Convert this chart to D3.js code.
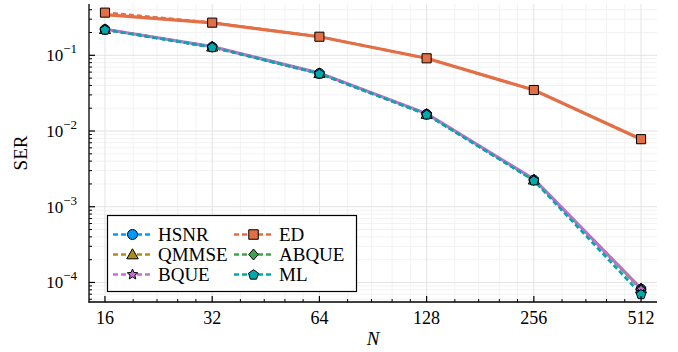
<!DOCTYPE html>
<html>
<head>
<meta charset="utf-8">
<script src="https://cdn.jsdelivr.net/npm/d3@7"></script>
<style>
  body { margin: 0; background: #fff; }
</style>
</head>
<body>
<svg id="chart" width="678" height="352" font-family="'Liberation Serif', 'DejaVu Serif', 'Times New Roman', serif"></svg>
<script>
// data
const nValues = [16, 32, 64, 128, 256, 512]
const xTickLabels = ["16", "32", "64", "128", "256", "512"]
const yTickExponents = [-1, -2, -3, -4]

const serHSNR  = [0.220, 0.129, 0.0578, 0.0167, 0.00226, 8.2e-5]
const serED    = [0.366, 0.270, 0.176, 0.0913, 0.0348, 0.0078]
const serQMMSE = [0.220, 0.129, 0.0578, 0.0167, 0.00226, 8.3e-5]
const serABQUE = [0.220, 0.129, 0.0578, 0.0167, 0.00226, 8.1e-5]
const serBQUE  = [0.220, 0.129, 0.0578, 0.0167, 0.00228, 8.2e-5]
const serML    = [0.218, 0.128, 0.0572, 0.0165, 0.00222, 7.0e-5]
// solid curves without legend entries
const edTheory   = [0.345, 0.268, 0.176, 0.0913, 0.0348, 0.0078]
const bqueTheory = [0.221, 0.130, 0.0582, 0.0170, 0.00232, 8.3e-5]

const series = [
  { name: "HSNR",  values: serHSNR,  color: "#009AFA", shape: "circle" },
  { name: "ED",    values: serED,    color: "#E36F47", shape: "square" },
  { name: "QMMSE", values: serQMMSE, color: "#AC8E18", shape: "triangle" },
  { name: "ABQUE", values: serABQUE, color: "#3EA44E", shape: "diamond" },
  { name: "BQUE",  values: serBQUE,  color: "#C271D2", shape: "star" },
  { name: "ML",    values: serML,    color: "#00A9AD", shape: "pentagon" }
]

const margin = { left: 89, right: 657, top: 4, bottom: 302 }
const svg = d3.select("#chart")

const x = d3.scaleLog().base(2).domain([14.43, 567.6]).range([margin.left, margin.right])
const y = d3.scaleLog().domain([5.52e-5, 0.476]).range([margin.bottom, margin.top])

// minor ticks
const xMinor = []
for (let i = 0; i < nValues.length - 1; i++) {
  for (let k = 1; k < 5; k++) xMinor.push(nValues[i] * (1 + k * 0.2))
}
const yMinor = []
for (let e = -5; e <= -1; e++) {
  for (let m = 2; m <= 9; m++) {
    const v = m * Math.pow(10, e)
    if (v > y.domain()[0] && v < y.domain()[1]) yMinor.push(v)
  }
}
const yMajor = yTickExponents.map(e => Math.pow(10, e))

// grid
const grid = svg.append("g")
grid.selectAll(".xminor").data(xMinor).join("line")
  .attr("x1", d => x(d)).attr("x2", d => x(d))
  .attr("y1", margin.top).attr("y2", margin.bottom)
  .attr("stroke", "#f2f2f2").attr("stroke-width", 1)
grid.selectAll(".yminor").data(yMinor).join("line")
  .attr("x1", margin.left).attr("x2", margin.right)
  .attr("y1", d => y(d)).attr("y2", d => y(d))
  .attr("stroke", "#f2f2f2").attr("stroke-width", 1)
grid.selectAll(".xmajor").data(nValues).join("line")
  .attr("x1", d => x(d)).attr("x2", d => x(d))
  .attr("y1", margin.top).attr("y2", margin.bottom)
  .attr("stroke", "#e3e3e3").attr("stroke-width", 1)
grid.selectAll(".ymajor").data(yMajor).join("line")
  .attr("x1", margin.left).attr("x2", margin.right)
  .attr("y1", d => y(d)).attr("y2", d => y(d))
  .attr("stroke", "#e3e3e3").attr("stroke-width", 1)

// marker shapes
function shapePath(shape, r) {
  const pts = []
  if (shape === "circle") {
    return `M${r},0A${r},${r} 0 1,1 ${-r},0A${r},${r} 0 1,1 ${r},0Z`
  }
  if (shape === "square") {
    const s = r * 0.95
    return `M${-s},${-s}L${s},${-s}L${s},${s}L${-s},${s}Z`
  }
  if (shape === "triangle") {
    const h = r * 1.15
    return `M0,${-h}L${h * 1.0},${h * 0.75}L${-h * 1.0},${h * 0.75}Z`
  }
  if (shape === "diamond") {
    return `M0,${-r * 1.1}L${r * 0.95},0L0,${r * 1.1}L${-r * 0.95},0Z`
  }
  if (shape === "star") {
    for (let i = 0; i < 10; i++) {
      const a = -Math.PI / 2 + i * Math.PI / 5
      const rr = i % 2 === 0 ? r * 1.1 : r * 0.5
      pts.push([rr * Math.cos(a), rr * Math.sin(a)])
    }
  }
  if (shape === "pentagon") {
    for (let i = 0; i < 5; i++) {
      const a = -Math.PI / 2 + i * 2 * Math.PI / 5
      pts.push([r * 1.05 * Math.cos(a), r * 1.05 * Math.sin(a) + r * 0.08])
    }
  }
  return "M" + pts.map(p => p.join(",")).join("L") + "Z"
}

const line = d3.line().x((d, i) => x(nValues[i])).y(d => y(d))
const plot = svg.append("g")

// solid curves
plot.append("path").attr("d", line(edTheory))
  .attr("fill", "none").attr("stroke", "#E36F47").attr("stroke-width", 3.2)
plot.append("path").attr("d", line(bqueTheory))
  .attr("fill", "none").attr("stroke", "#C271D2").attr("stroke-width", 3.2)

// dashed series with markers
const drawOrder = ["ED", "HSNR", "QMMSE", "ABQUE", "BQUE", "ML"]
drawOrder.forEach(name => {
  const s = series.find(d => d.name === name)
  plot.append("path").attr("d", line(s.values))
    .attr("fill", "none").attr("stroke", s.color).attr("stroke-width", 2.6)
    .attr("stroke-dasharray", "5,3")
})
drawOrder.forEach(name => {
  const s = series.find(d => d.name === name)
  plot.selectAll(null).data(s.values).join("path")
    .attr("transform", (d, i) => `translate(${x(nValues[i])},${y(d)})`)
    .attr("d", shapePath(s.shape, 4.8))
    .attr("fill", s.color).attr("stroke", "#000").attr("stroke-width", 1)
})

// axes
const axes = svg.append("g")
axes.append("line").attr("x1", margin.left).attr("x2", margin.left)
  .attr("y1", margin.top).attr("y2", margin.bottom + 0.5).attr("stroke", "#000").attr("stroke-width", 1.3)
axes.append("line").attr("x1", margin.left - 0.5).attr("x2", margin.right)
  .attr("y1", margin.bottom).attr("y2", margin.bottom).attr("stroke", "#000").attr("stroke-width", 1.3)

axes.selectAll(".xt").data(nValues).join("line")
  .attr("x1", d => x(d)).attr("x2", d => x(d))
  .attr("y1", margin.bottom).attr("y2", margin.bottom - 6)
  .attr("stroke", "#000").attr("stroke-width", 1.2)
axes.selectAll(".xmt").data(xMinor).join("line")
  .attr("x1", d => x(d)).attr("x2", d => x(d))
  .attr("y1", margin.bottom).attr("y2", margin.bottom - 3)
  .attr("stroke", "#000").attr("stroke-width", 1)
axes.selectAll(".yt").data(yMajor).join("line")
  .attr("x1", margin.left).attr("x2", margin.left + 6)
  .attr("y1", d => y(d)).attr("y2", d => y(d))
  .attr("stroke", "#000").attr("stroke-width", 1.2)
axes.selectAll(".ymt").data(yMinor).join("line")
  .attr("x1", margin.left).attr("x2", margin.left + 3)
  .attr("y1", d => y(d)).attr("y2", d => y(d))
  .attr("stroke", "#000").attr("stroke-width", 1)

axes.selectAll(".xl").data(nValues).join("text")
  .attr("x", d => x(d)).attr("y", margin.bottom + 22)
  .attr("text-anchor", "middle").attr("font-size", 18)
  .text((d, i) => xTickLabels[i])

const yl = axes.selectAll(".yl").data(yTickExponents).join("text")
  .attr("x", 77).attr("y", d => y(Math.pow(10, d)) + 6)
  .attr("text-anchor", "end").attr("font-size", 17)
yl.append("tspan").text("10")
yl.append("tspan").attr("dy", -8).attr("font-size", 13).text(d => "\u2212" + Math.abs(d))

svg.append("text").attr("x", 373).attr("y", 345)
  .attr("text-anchor", "middle").attr("font-size", 19).attr("font-style", "italic").text("N")
svg.append("text").attr("transform", "translate(27,153) rotate(-90)")
  .attr("text-anchor", "middle").attr("font-size", 19).text("SER")

// legend
const legend = svg.append("g")
legend.append("rect").attr("x", 107.5).attr("y", 215.5).attr("width", 249).attr("height", 76)
  .attr("fill", "#fff").attr("stroke", "#000").attr("stroke-width", 1.2)
const legendRows = [["HSNR", "ED"], ["QMMSE", "ABQUE"], ["BQUE", "ML"]]
const colX = [113, 234]
const rowY = [234.5, 254.5, 274.5]
legendRows.forEach((row, r) => row.forEach((name, c) => {
  const s = series.find(d => d.name === name)
  const g = legend.append("g").attr("transform", `translate(${colX[c]},${rowY[r]})`)
  g.append("line").attr("x1", 0).attr("x2", 39).attr("y1", 0).attr("y2", 0)
    .attr("stroke", s.color).attr("stroke-width", 2.6).attr("stroke-dasharray", "5,3")
  g.append("path").attr("transform", "translate(19.5,0)")
    .attr("d", shapePath(s.shape, 5))
    .attr("fill", s.color).attr("stroke", "#000").attr("stroke-width", 1)
  g.append("text").attr("x", 45).attr("y", 6).attr("font-size", 19).text(name)
}))
</script>
</body>
</html>
